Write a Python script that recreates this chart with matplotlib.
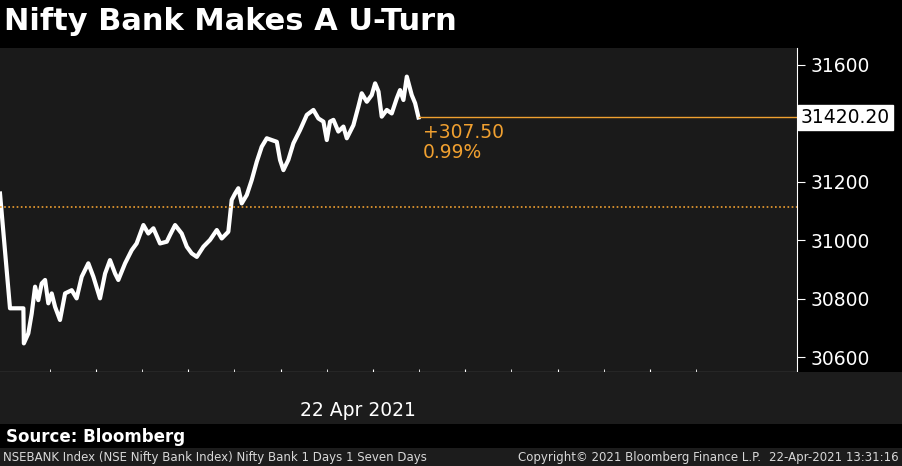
import numpy as np
import matplotlib
matplotlib.use('Agg')
import matplotlib.pyplot as plt

# minutes since 9:00 and index level
mins = [-2.4, 4.1, 12.8, 13.1, 16.0, 18.2, 20.4, 22.5, 24.7, 26.9, 29.0, 31.2, 33.4,
        36.6, 39.9, 44.2, 47.4, 50.7, 55.0, 58.3, 62.6, 65.9, 69.1, 72.4, 74.5,
        78.9, 83.2, 86.4, 90.8, 94.0, 97.3, 101.6, 106.0, 108.1, 111.4, 115.7,
        119.0, 122.2, 125.5, 129.8, 134.1, 138.5, 141.7, 146.0, 148.2, 150.4,
        152.5, 154.7, 158.0, 161.2, 164.5, 167.7, 171.0, 174.2, 177.5, 179.6,
        181.8, 185.0, 188.3, 192.6, 197.0, 201.3, 204.5, 207.8, 210.0, 212.1,
        214.3, 217.5, 220.8, 223.0, 227.3, 230.5, 232.7, 236.0, 239.2, 241.4,
        243.6, 245.7, 249.0, 252.2, 255.5, 257.6, 259.8, 262.0, 265.2, 267.4, 269.6]
level = [31160, 30767, 30767, 30647, 30681, 30749, 30841, 30795, 30852, 30864,
         30784, 30818, 30772, 30727, 30818, 30829, 30801, 30875, 30921, 30875,
         30801, 30886, 30932, 30886, 30864, 30921, 30966, 30989, 31052, 31023,
         31041, 30989, 30995, 31018, 31052, 31023, 30978, 30955, 30943, 30978,
         31001, 31035, 31006, 31029, 31138, 31160, 31178, 31126, 31155, 31206,
         31269, 31320, 31349, 31343, 31337, 31275, 31240, 31275, 31332, 31377,
         31429, 31446, 31417, 31406, 31343, 31406, 31412, 31372, 31389, 31349,
         31394, 31457, 31503, 31474, 31497, 31537, 31509, 31423, 31446, 31434,
         31486, 31514, 31480, 31560, 31497, 31469, 31420.2]
last = 31420.20
prev_close = 31112.70
yticks = [30600, 30800, 31000, 31200, 31600]
xtick_labels = ['10:00', '11:00', '12:00', '13:00', '14:00', '15:00', '16:00']
xtick_pos = [60, 120, 180, 240, 300, 360, 420]
xminor_pos = [30, 90, 150, 210, 270, 330, 390, 450]

ORANGE = '#f0a030'
fig = plt.figure(figsize=(9.03, 4.66), dpi=100, facecolor='black')
# grey band for time axis and footer
fig.patches.append(plt.Rectangle((0, 42 / 466), 1, 52 / 466, transform=fig.transFigure,
                                 fc='#1c1c1c', zorder=0))
fig.patches.append(plt.Rectangle((0, 0), 1, 18 / 466, transform=fig.transFigure,
                                 fc='#1c1c1c', zorder=0))

ax = fig.add_axes([0, 94 / 466, 797 / 903, 324 / 466])
ax.set_facecolor('#1a1a1a')
ax.plot(mins, level, color='white', lw=3.0, solid_joinstyle='round')
ax.axhline(prev_close, color=ORANGE, lw=1.2, ls=(0, (1, 1.5)))
ax.plot([mins[-1], 520], [last, last], color=ORANGE, lw=1)
ax.set_xlim(-2.4, 515.6)
ax.set_ylim(30549, 31658)
for s in ['top', 'left']:
    ax.spines[s].set_visible(False)
for s in ['bottom', 'right']:
    ax.spines[s].set_color('white')
ax.yaxis.tick_right()
ax.set_yticks(yticks)
ax.set_yticklabels([str(v) for v in yticks])
ax.tick_params(axis='y', colors='white', labelsize=13.5, length=6, pad=4)
ax.set_xticks(xtick_pos)
ax.set_xticklabels(xtick_labels)
ax.set_xticks(xminor_pos, minor=True)
ax.tick_params(axis='x', which='both', colors='white', labelsize=13.5, length=5,
               direction='inout', pad=3)
ax.text(mins[-1] + 3, last - 18, '+307.50', color=ORANGE, fontsize=13.5, va='top')
ax.text(mins[-1] + 3, last - 88, '0.99%', color=ORANGE, fontsize=13.5, va='top')
ax.text(1.005, (last - 30549) / (31658 - 30549), '31420.20', transform=ax.transAxes,
        color='black', fontsize=13.5, va='center', ha='left',
        bbox=dict(boxstyle='square,pad=0.15', fc='white', ec='white'))

fig.text(358 / 903, 1 - 410 / 466, '22 Apr 2021', color='white', fontsize=13.5,
         ha='center', va='center')
fig.text(4 / 903, 1 - 22 / 466, 'Nifty Bank Makes A U-Turn', color='white',
         fontsize=22, fontweight='bold', va='center')
fig.text(6 / 903, 1 - 437 / 466, 'Source: Bloomberg', color='white', fontsize=12,
         fontweight='bold', va='center')
fig.text(3 / 903, 1 - 457 / 466, 'NSEBANK Index (NSE Nifty Bank Index) Nifty Bank 1 Days 1 Seven Days',
         color='#d8d8d8', fontsize=8.5, va='center')
fig.text(640 / 903, 1 - 457 / 466, 'Copyright\u00a9 2021 Bloomberg Finance L.P.',
         color='#d8d8d8', fontsize=8.5, va='center', ha='center')
fig.text(899 / 903, 1 - 457 / 466, '22-Apr-2021 13:31:16', color='#d8d8d8',
         fontsize=8.5, va='center', ha='right')

fig.savefig('out.png', dpi=100, facecolor='black')
